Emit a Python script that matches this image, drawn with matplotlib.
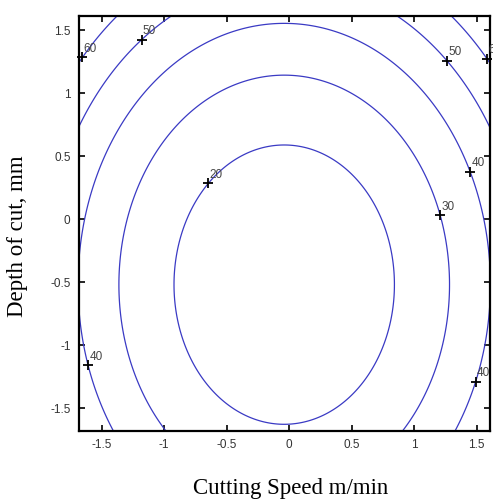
import numpy as np
import matplotlib
matplotlib.use('Agg')
import matplotlib.pyplot as plt

# fitted response surface for the roughness model (coded units)
surface_base = 12.0
coef_speed = 10.3
coef_depth = 6.5
speed_center = -0.04
depth_center = -0.52

levels = [20, 30, 40, 50, 60]

# approximate spots where each contour carries its value label
label_levels = [60, 50, 20, 40, 50, 60, 40, 30, 40]
label_x = [-1.68, -1.21, -0.66, -1.60, 1.25, 1.55, 1.44, 1.20, 1.51]
label_y = [1.30, 1.45, 0.29, -1.16, 1.25, 1.25, 0.37, 0.03, -1.30]

speed_lim = (-1.682, 1.606)
depth_lim = (-1.682, 1.613)

xs = np.linspace(-1.75, 1.75, 400)
ys = np.linspace(-1.75, 1.75, 400)
X, Y = np.meshgrid(xs, ys)
Z = surface_base + coef_speed * (X - speed_center) ** 2 + coef_depth * (Y - depth_center) ** 2

fig = plt.figure(figsize=(4.93, 5.04), dpi=100)
ax = fig.add_axes([0.160, 0.145, 0.834, 0.823])

cs = ax.contour(X, Y, Z, levels=levels, colors='#3a3ac4', linewidths=0.9)

# MATLAB-style clabel: a "+" on the line and the value just above-right
for lev, lx, ly in zip(label_levels, label_x, label_y):
    segs = cs.allsegs[levels.index(lev)]
    pts = np.vstack(segs)
    i = np.argmin((pts[:, 0] - lx) ** 2 + (pts[:, 1] - ly) ** 2)
    px, py = pts[i]
    ax.plot(px, py, marker='+', color='black', markersize=7, mew=1.3, clip_on=False)
    ax.annotate(str(lev), (px, py), xytext=(1, 2), textcoords='offset points',
                fontsize=8.5, color='#444444', family='Liberation Sans',
                ha='left', va='bottom', annotation_clip=True, clip_on=False)

ax.set_xlim(*speed_lim)
ax.set_ylim(*depth_lim)
ticks = [-1.5, -1, -0.5, 0, 0.5, 1, 1.5]
tick_labels = ['-1.5', '-1', '-0.5', '0', '0.5', '1', '1.5']
ax.set_xticks(ticks)
ax.set_yticks(ticks)
ax.set_xticklabels(tick_labels)
ax.set_yticklabels(tick_labels)
ax.tick_params(direction='in', top=True, right=True, length=4, width=1.2,
               labelsize=8.5, labelcolor='#333333', pad=6)
for lab in ax.get_xticklabels() + ax.get_yticklabels():
    lab.set_family('Liberation Sans')
for sp in ax.spines.values():
    sp.set_linewidth(1.6)

ax.set_xlabel('Cutting Speed m/min', family='Liberation Serif', fontsize=16.5)
ax.set_ylabel('Depth of cut, mm', family='Liberation Serif', fontsize=16.5)
ax.xaxis.set_label_coords(0.516, -0.113)
ax.yaxis.set_label_coords(-0.123, 0.47)

fig.savefig('out.png', dpi=100)
